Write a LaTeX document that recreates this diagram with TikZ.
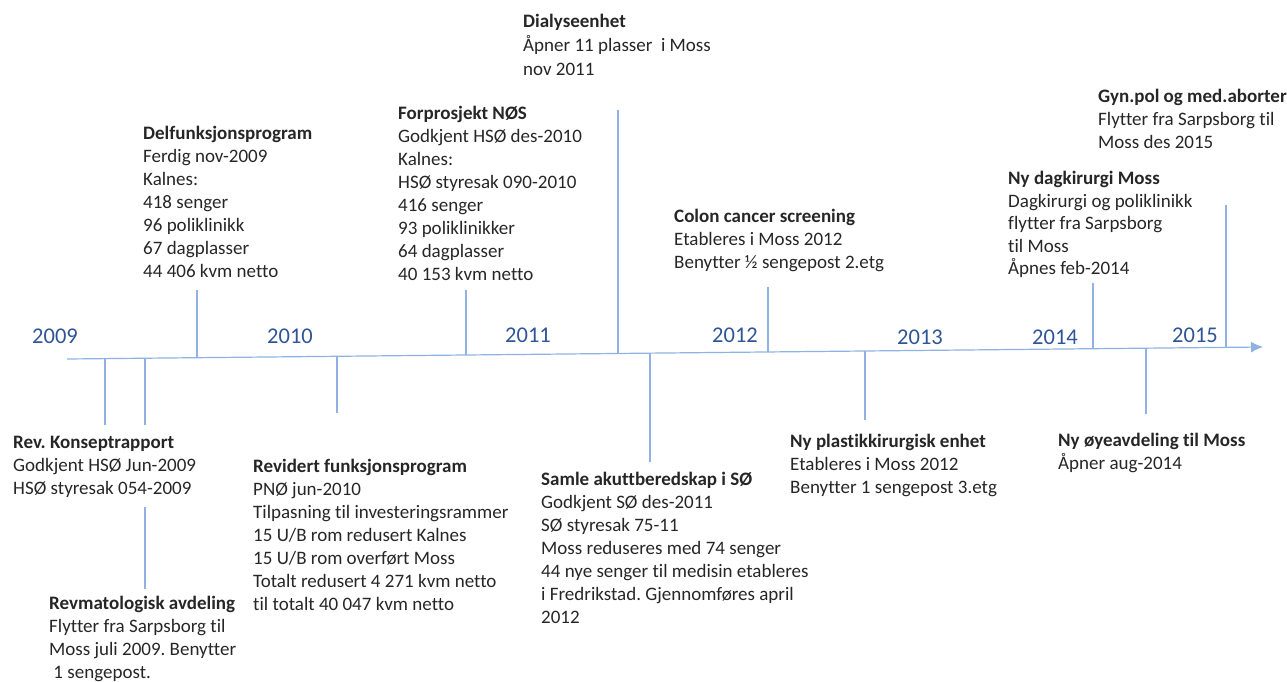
\documentclass[tikz,border=0pt]{standalone}
\usepackage{fontspec}
\setmainfont{Carlito}[Ligatures={NoCommon}]
\usetikzlibrary{positioning,shapes,arrows.meta}
\frenchspacing

\definecolor{lineblue}{RGB}{143,178,226}
\definecolor{yearblue}{RGB}{47,85,151}
\definecolor{textgray}{RGB}{38,38,38}

\tikzset{
    event/.style={anchor=north west, align=left, inner sep=0pt, text=textgray,
        font=\fontsize{19}{23}\selectfont},
    year/.style={inner sep=0pt, text=yearblue, font=\fontsize{22.5}{26}\selectfont},
    tickline/.style={draw=lineblue, line width=1.2pt},
}

\begin{document}
\begin{tikzpicture}[x=1pt, y=-1pt]
    \useasboundingbox (0,0) rectangle (1287,682);

    % Axis
    \coordinate (ax0) at (67,359);
    \coordinate (ax1) at (1263,347);
    \draw[tickline, -{Latex[length=12pt,width=11pt]}] (ax0) -- (ax1);

    % Years
    \foreach \yr/\x/\y in {2009/55/336, 2010/290/336, 2011/528/335, 2012/735/335,
                           2013/920/337, 2014/1055/337, 2015/1195/335} {
        \node[year] (y\yr) at (\x,\y) {\yr};
    }

    % Events above the axis
    \node[event] (delfunk) at (143,123) {\strut\textbf{Delfunksjonsprogram}\\
        Ferdig nov-2009\\ Kalnes:\\ 418 senger\\ 96 poliklinikk\\
        67 dagplasser\\ 44 406 kvm netto};
    \node[event] (forprosjekt) at (398,103) {\strut\textbf{Forprosjekt NØS}\\
        Godkjent HSØ des-2010\\ Kalnes:\\ HSØ styresak 090-2010\\ 416 senger\\
        93 poliklinikker\\ 64 dagplasser\\ 40 153 kvm netto};
    \node[event, font=\fontsize{19}{24}\selectfont] (dialyse) at (523,11)
        {\strut\textbf{Dialyseenhet}\\ Åpner 11 plasser~ i Moss\\ nov 2011};
    \node[event] (colon) at (674,206) {\strut\textbf{Colon cancer screening}\\
        Etableres i Moss 2012\\ Benytter ½ sengepost 2.etg};
    \node[event, font=\fontsize{19}{22.5}\selectfont] (dagkir) at (1008,169)
        {\strut\textbf{Ny dagkirurgi Moss}\\ Dagkirurgi og poliklinikk\\
        flytter fra Sarpsborg\\ til Moss\\ Åpnes feb-2014};
    \node[event] (gynpol) at (1098,86) {\strut\textbf{Gyn.pol og med.aborter}\\
        Flytter fra Sarpsborg til\\ Moss des 2015};

    % Events below the axis
    \node[event] (konsept) at (13,432) {\strut\textbf{Rev. Konseptrapport}\\
        Godkjent HSØ Jun-2009\\ HSØ styresak 054-2009};
    \node[event] (revmat) at (49,593) {\strut\textbf{Revmatologisk avdeling}\\
        Flytter fra Sarpsborg til\\ Moss juli 2009. Benytter\\ ~1 sengepost.};
    \node[event] (revidert) at (253,456) {\strut\textbf{Revidert funksjonsprogram}\\
        PNØ jun-2010\\ Tilpasning til investeringsrammer\\
        15 U/B rom redusert Kalnes\\ 15 U/B rom overført Moss\\
        Totalt redusert 4 271 kvm netto\\ til totalt 40 047 kvm netto};
    \node[event] (akutt) at (541,469) {\strut\textbf{Samle akuttberedskap i SØ}\\
        Godkjent SØ des-2011\\ SØ styresak 75-11\\ Moss reduseres med 74 senger\\
        44 nye senger til medisin etableres\\ i Fredrikstad. Gjennomføres april\\ 2012};
    \node[event] (plastikk) at (790,431) {\strut\textbf{Ny plastikkirurgisk enhet}\\
        Etableres i Moss 2012\\ Benytter 1 sengepost 3.etg};
    \node[event] (oye) at (1058,430) {\strut\textbf{Ny øyeavdeling til Moss}\\
        Åpner aug-2014};

    % Tick points on the axis and tick ends
    \foreach \n/\x/\ya/\yb in {1/197/357.7/290, 2/105/358.6/425, 3/145/358.2/425,
                               4/337/356.3/413, 5/466/355.0/290, 6/618/353.5/110,
                               7/650/353.2/462, 8/768/352.0/287, 9/865/351.0/420,
                               10/1093/348.7/283, 11/1146/348.2/414, 12/1226/347.4/205} {
        \coordinate (a\n) at (\x,\ya);
        \coordinate (e\n) at (\x,\yb);
    }
    \coordinate (r1) at (145,507);
    \coordinate (r2) at (145,589);

    % Ticks
    \foreach \n in {1,...,12} {
        \draw[tickline] (a\n) -- (e\n);
    }
    \draw[tickline] (r1) -- (r2);
\end{tikzpicture}
\end{document}
